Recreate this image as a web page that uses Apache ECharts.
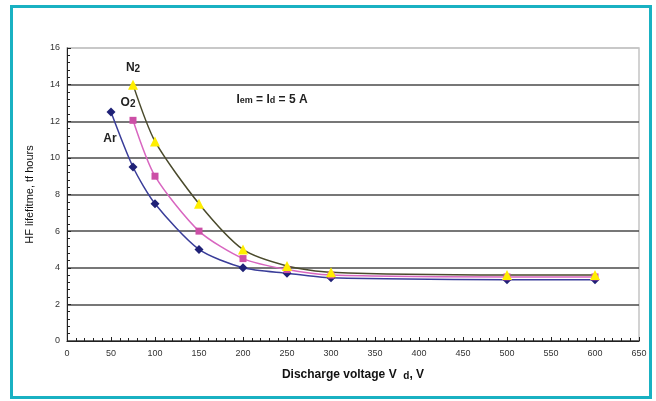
<!DOCTYPE html>
<html>
<head>
<meta charset="utf-8">
<script src="https://cdn.jsdelivr.net/npm/echarts@6/dist/echarts.min.js"></script>
<style>
html,body{margin:0;padding:0;background:#fff;}
#c{width:656px;height:401px;}
</style>
</head>
<body>
<div id="c"></div>
<script>
var arVoltage = [50, 75, 100, 150, 200, 250, 300, 500, 600];
var arValues = [12.5, 9.5, 7.5, 5.0, 4.0, 3.7, 3.45, 3.35, 3.35];
var gasVoltage = [75, 100, 150, 200, 250, 300, 500, 600];
var o2Values = [12.05, 9.0, 6.0, 4.5, 3.9, 3.6, 3.5, 3.5];
var n2Values = [14.0, 10.9, 7.5, 5.0, 4.1, 3.75, 3.6, 3.6];
var xTicks = [0, 50, 100, 150, 200, 250, 300, 350, 400, 450, 500, 550, 600, 650];
var yTicks = [0, 2, 4, 6, 8, 10, 12, 14, 16];

function pairs(xs, ys) { return xs.map(function (x, i) { return [x, ys[i]]; }); }

var chart = echarts.init(document.getElementById('c'), null, {renderer: 'canvas'});
var font = '"Liberation Sans", Arial, sans-serif';
var gridColors = yTicks.map(function (v, i) { return i === yTicks.length - 1 ? '#c4c4c4' : '#4a4a4a'; });

chart.setOption({
  animation: false,
  backgroundColor: '#fff',
  grid: {left: 67, top: 48, right: 17, bottom: 60, show: true, borderColor: '#c4c4c4', borderWidth: 1.5},
  xAxis: {
    type: 'value', min: xTicks[0], max: xTicks[xTicks.length - 1], interval: 50,
    name: '{a|Discharge voltage V  }{b|d}{a|, V}', nameLocation: 'middle', nameGap: 27,
    nameTextStyle: {rich: {
      a: {fontFamily: font, fontSize: 12, fontWeight: 'bold', color: '#111'},
      b: {fontFamily: font, fontSize: 10, fontWeight: 'bold', color: '#111', padding: [3, 0, 0, 0]}
    }},
    axisLine: {show: true, lineStyle: {color: '#222', width: 1}},
    axisTick: {show: true, inside: true, length: 4, lineStyle: {color: '#222'}},
    minorTick: {show: true, splitNumber: 5, length: 3, lineStyle: {color: '#222'}},
    axisLabel: {fontFamily: font, fontSize: 9, color: '#333', margin: 8},
    splitLine: {show: false}
  },
  yAxis: {
    type: 'value', min: yTicks[0], max: yTicks[yTicks.length - 1], interval: 2,
    name: 'HF lifefitme, tf hours', nameLocation: 'middle', nameGap: 32,
    nameTextStyle: {fontFamily: font, fontSize: 11, color: '#111'},
    axisLine: {show: true, lineStyle: {color: '#222', width: 1}},
    axisTick: {show: true, inside: true, length: 4, lineStyle: {color: '#222'}},
    minorTick: {show: true, splitNumber: 5, length: 3, lineStyle: {color: '#222'}},
    axisLabel: {fontFamily: font, fontSize: 9, color: '#333', margin: 7},
    splitLine: {show: true, lineStyle: {color: gridColors, width: 1.6}}
  },
  series: [
    {
      name: 'Ar', type: 'line', smooth: 0.25,
      data: pairs(arVoltage, arValues),
      symbol: 'diamond', symbolSize: 9,
      lineStyle: {color: '#3a3d99', width: 1.5},
      itemStyle: {color: '#1f2177'}
    },
    {
      name: 'O2', type: 'line', smooth: 0.25,
      data: pairs(gasVoltage, o2Values),
      symbol: 'rect', symbolSize: 7,
      lineStyle: {color: '#d866c0', width: 1.5},
      itemStyle: {color: '#cc4fa6'}
    },
    {
      name: 'N2', type: 'line', smooth: 0.25,
      data: pairs(gasVoltage, n2Values),
      symbol: 'triangle', symbolSize: 10,
      lineStyle: {color: '#4a4a2c', width: 1.5},
      itemStyle: {color: '#ffee00'}
    }
  ],
  graphic: [
    {type: 'rect', shape: {x: 11.5, y: 6.5, width: 639, height: 391}, style: {fill: 'none', stroke: '#19b1c2', lineWidth: 3}, silent: true},
    {type: 'text', x: 133, y: 68, style: {text: '{a|N}{b|2}', align: 'center', verticalAlign: 'middle', rich: {
      a: {fontFamily: font, fontSize: 12, fontWeight: 'bold', fill: '#222'},
      b: {fontFamily: font, fontSize: 10, fontWeight: 'bold', fill: '#222', padding: [2, 0, 0, 0]}}}},
    {type: 'text', x: 128, y: 103, style: {text: '{a|O}{b|2}', align: 'center', verticalAlign: 'middle', rich: {
      a: {fontFamily: font, fontSize: 12, fontWeight: 'bold', fill: '#222'},
      b: {fontFamily: font, fontSize: 10, fontWeight: 'bold', fill: '#222', padding: [2, 0, 0, 0]}}}},
    {type: 'text', x: 110, y: 139, style: {text: 'Ar', align: 'center', verticalAlign: 'middle', fontFamily: font, fontSize: 12, fontWeight: 'bold', fill: '#222'}},
    {type: 'text', x: 272, y: 100, style: {text: '{a|I}{b|em}{a| = I}{b|d}{a| = 5 A}', align: 'center', verticalAlign: 'middle', rich: {
      a: {fontFamily: font, fontSize: 12, fontWeight: 'bold', fill: '#222'},
      b: {fontFamily: font, fontSize: 9, fontWeight: 'bold', fill: '#222', padding: [2, 0, 0, 0]}}}}
  ]
});
</script>
</body>
</html>
